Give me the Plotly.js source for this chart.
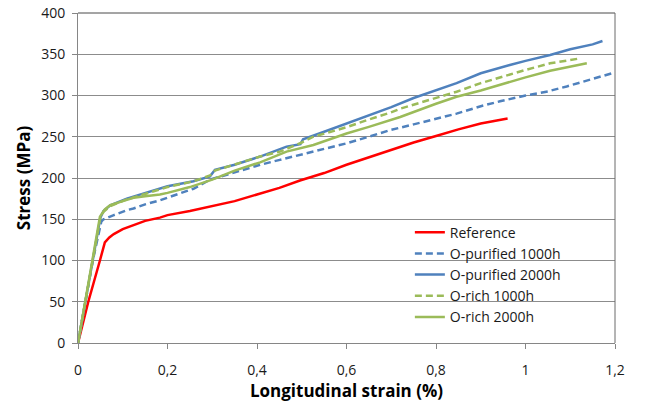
<!DOCTYPE html>
<html>
<head>
<meta charset="utf-8">
<script src="https://cdn.plot.ly/plotly-3.0.1.min.js"></script>
<style>
  html, body { margin: 0; padding: 0; background: #fff; }
  #chart { width: 646px; height: 405px; }
</style>
</head>
<body>
<div id="chart"></div>
<script>
// Series names
const seriesNames = ["Reference", "O-purified 1000h", "O-purified 2000h", "O-rich 1000h", "O-rich 2000h"];

// Reference
const refX = [0, 0.023, 0.049, 0.06, 0.07, 0.08, 0.1, 0.124, 0.15, 0.183, 0.2, 0.25, 0.3, 0.332, 0.35, 0.4, 0.45, 0.496, 0.55, 0.6, 0.65, 0.7, 0.75, 0.8, 0.85, 0.9, 0.96];
const refY = [0, 50, 100, 122, 128, 132, 138, 143, 148, 152, 155, 160, 166, 169, 172, 180, 188, 197, 206, 216, 225, 234, 243, 251, 259, 266, 272];

// O-purified 1000h
const op1000X = [0, 0.016, 0.033, 0.052, 0.057, 0.08, 0.109, 0.124, 0.15, 0.183, 0.2, 0.258, 0.295, 0.35, 0.407, 0.451, 0.526, 0.6, 0.65, 0.697, 0.75, 0.8, 0.846, 0.9, 0.943, 1.0, 1.05, 1.092, 1.15, 1.2];
const op1000Y = [0, 50, 100, 147, 150, 155, 161, 163, 168, 173, 176, 187, 198, 207, 216, 222, 232, 242, 250, 258, 265, 272, 278, 287, 293, 300, 305, 311, 320, 328];

// O-purified 2000h
const op2000X = [0, 0.016, 0.033, 0.05, 0.057, 0.072, 0.109, 0.15, 0.183, 0.2, 0.258, 0.295, 0.306, 0.35, 0.407, 0.451, 0.466, 0.497, 0.503, 0.55, 0.6, 0.65, 0.7, 0.75, 0.8, 0.846, 0.9, 0.943, 0.965, 1.0, 1.055, 1.1, 1.15, 1.172];
const op2000Y = [0, 50, 100, 152, 160, 167, 175, 182, 187.5, 190, 196, 202, 210, 216, 226, 235, 238, 241, 247, 256, 266, 276, 286, 297, 306, 315, 327, 334, 337, 342, 349, 356, 362, 366];

// O-rich 1000h
const or1000X = [0, 0.016, 0.033, 0.05, 0.057, 0.072, 0.109, 0.15, 0.2, 0.258, 0.295, 0.306, 0.35, 0.407, 0.451, 0.5, 0.526, 0.6, 0.65, 0.697, 0.72, 0.8, 0.846, 0.9, 0.943, 0.965, 1.0, 1.055, 1.1, 1.122];
const or1000Y = [0, 50, 100, 152, 159, 166, 174, 181, 189, 196, 203, 209, 216, 226, 232, 243, 250, 261.5, 271, 279, 284, 297, 304.6, 315, 322, 325, 331, 339, 343, 345];

// O-rich 2000h
const or2000X = [0, 0.016, 0.033, 0.049, 0.06, 0.072, 0.1, 0.124, 0.15, 0.183, 0.2, 0.25, 0.3, 0.35, 0.407, 0.451, 0.466, 0.526, 0.6, 0.65, 0.697, 0.72, 0.8, 0.846, 0.9, 0.943, 0.965, 1.0, 1.055, 1.1, 1.137];
const or2000Y = [0, 50, 100, 153, 162, 167, 172, 176, 178, 180, 182, 189, 198, 209, 219, 228, 232, 240, 254, 262, 270, 274, 290, 298.5, 306, 313, 317, 322, 330, 335, 339];

const RED = "#FF0000", BLUE = "#4F81BD", GREEN = "#9BBB59";
const DASH = "7px,4px";

const traces = [
  {x: refX, y: refY, name: seriesNames[0], line: {color: RED, width: 2.5}},
  {x: op1000X, y: op1000Y, name: seriesNames[1], line: {color: BLUE, width: 2.5, dash: DASH}},
  {x: op2000X, y: op2000Y, name: seriesNames[2], line: {color: BLUE, width: 2.5}},
  {x: or1000X, y: or1000Y, name: seriesNames[3], line: {color: GREEN, width: 2.5, dash: DASH}},
  {x: or2000X, y: or2000Y, name: seriesNames[4], line: {color: GREEN, width: 2.5}}
].map(t => Object.assign({type: "scatter", mode: "lines"}, t));

const FONT = "'Open Sans', 'Noto Sans', sans-serif";

const layout = {
  width: 646, height: 405,
  margin: {l: 78, r: 31, t: 13, b: 62},
  paper_bgcolor: "#fff", plot_bgcolor: "#fff",
  separators: ", ",
  font: {family: FONT, size: 14, color: "#1a1a1a"},
  showlegend: true,
  legend: {
    x: 0.618, xanchor: "left", y: 0.383, yanchor: "top",
    bgcolor: "rgba(0,0,0,0)", borderwidth: 0,
    font: {family: FONT, size: 14, color: "#1a1a1a"},
    itemwidth: 30, tracegroupgap: 0
  },
  xaxis: {
    range: [0, 1.2], dtick: 0.2, tick0: 0,
    showgrid: false, zeroline: false,
    showline: true, linecolor: "#868686", linewidth: 1,
    ticks: "outside", ticklen: 5, tickcolor: "#868686",
    ticklabelstandoff: 9,
    tickfont: {family: FONT, size: 14},
    title: {text: "Longitudinal strain (%)", font: {family: FONT, size: 17, weight: "bold", color: "#000"}, standoff: 5}
  },
  yaxis: {
    range: [0, 400], dtick: 50, tick0: 0,
    showgrid: true, gridcolor: "#8c8c8c", gridwidth: 1,
    zeroline: false,
    showline: true, linecolor: "#868686", linewidth: 1,
    ticks: "outside", ticklen: 5, tickcolor: "#868686",
    ticklabelstandoff: 4,
    tickfont: {family: FONT, size: 14},
    title: {text: "Stress (MPa)", font: {family: FONT, size: 17, weight: "bold", color: "#000"}, standoff: 6}
  },
  shapes: [
    {type: "line", xref: "paper", yref: "paper", x0: 0, x1: 1, y0: 1, y1: 1, line: {color: "#4a4a4a", width: 1}},
    {type: "line", xref: "paper", yref: "paper", x0: 1, x1: 1, y0: 0, y1: 1, line: {color: "#6a6a6a", width: 1}}
  ]
};

Plotly.newPlot("chart", traces, layout, {staticPlot: true, displayModeBar: false});
</script>
</body>
</html>
